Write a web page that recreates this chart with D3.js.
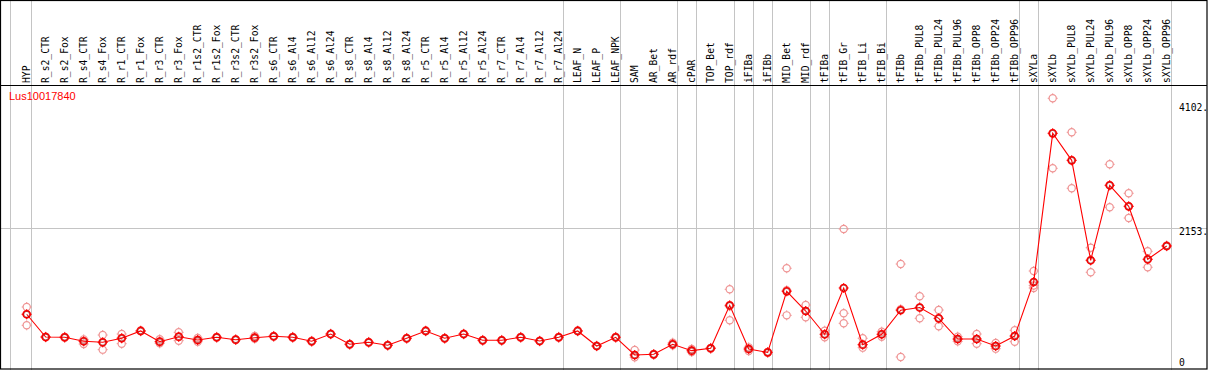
<!DOCTYPE html>
<html>
<head>
<meta charset="utf-8">
<script src="https://cdn.jsdelivr.net/npm/d3@7"></script>
<style>
  body { margin: 0; background: #fff; }
  svg { display: block; }
  .hdr { font-family: "DejaVu Sans Mono", monospace; font-size: 9.7px; fill: #000; }
  .ylab { font-family: "DejaVu Sans Mono", monospace; font-size: 9.7px; fill: #000; }
</style>
</head>
<body>
<div id="chart"></div>
<script>
// sample names along the top
var categories = ["HYP","R_s2_CTR","R_s2_Fox","R_s4_CTR","R_s4_Fox","R_r1_CTR","R_r1_Fox","R_r3_CTR","R_r3_Fox",
  "R_r1s2_CTR","R_r1s2_Fox","R_r3s2_CTR","R_r3s2_Fox","R_s6_CTR","R_s6_Al4","R_s6_Al12","R_s6_Al24",
  "R_s8_CTR","R_s8_Al4","R_s8_Al12","R_s8_Al24","R_r5_CTR","R_r5_Al4","R_r5_Al12","R_r5_Al24",
  "R_r7_CTR","R_r7_Al4","R_r7_Al12","R_r7_Al24","LEAF_N","LEAF_P","LEAF_NPK","SAM","AR_Bet","AR_rdf",
  "cPAR","TOP_Bet","TOP_rdf","iFIBa","iFIBb","MID_Bet","MID_rdf","tFIBa","tFIB_Gr","tFIB_Li","tFIB_Bi",
  "tFIBb","tFIBb_PUL8","tFIBb_PUL24","tFIBb_PUL96","tFIBb_OPP8","tFIBb_OPP24","tFIBb_OPP96",
  "sXYLa","sXYLb","sXYLb_PUL8","sXYLb_PUL24","sXYLb_PUL96","sXYLb_OPP8","sXYLb_OPP24","sXYLb_OPP96"];

// mean expression per sample
var means = [857,515,511,451,436,496,606,445,520,470,511,475,505,526,511,451,560,
  406,436,391,496,606,496,560,466,466,511,455,511,606,380,511,245,255,406,
  310,346,992,335,285,1202,906,556,1252,400,556,
  917,959,796,485,485,380,530,
  1342,3576,3170,1668,2795,2479,1683,1883];

// replicate values per sample
var replicates = [
  [966,857,691],[515,520,510],[511,505,518],[451,410,480],[545,325,436],[560,415,500],[606,600,612],
  [481,445,420],[586,460,515],[500,470,445],[511,505,518],[475,470,480],[530,505,490],[526,520,532],
  [511,505,518],[451,445,458],[560,555,566],[406,400,412],[436,430,442],[391,386,396],[496,490,502],
  [606,600,612],[496,490,502],[560,555,566],[466,460,472],[466,460,472],[511,505,518],[455,450,460],
  [511,505,518],[606,600,612],[380,375,386],[511,505,518],[320,210,245],[255,250,260],[430,406,390],
  [335,310,290],[346,340,352],[1232,766,978],[335,305,360],[285,280,290],[1548,841,1217],[996,811,906],
  [610,511,556],[2138,872,721],[496,355,400],[595,556,520],[1612,215,932],[1127,796,959],[921,676,796],
  [520,485,450],[560,415,485],[425,340,380],[616,445,530],[1507,1252,1290],[4102,3050,3576],
  [3591,2750,3170],[1857,1488,1668],[3110,2464,2795],[2675,2303,2479],[1803,1563,1683],[1883,1878,1890]];

// samples after which a group divider is drawn
var groupEnds = ["HYP","R_r7_Al24","LEAF_NPK","AR_rdf","cPAR","TOP_rdf","iFIBa","iFIBb","MID_rdf",
  "tFIBa","tFIB_Bi","tFIBb_OPP96","sXYLa","sXYLb_OPP96"];

var yTicks = [0, 2153, 4102];
var yTickLabels = ["0", "2153.", "4102."];
var geneName = "Lus10017840";

var width = 1209, height = 370, headerH = 85;

var svg = d3.select("#chart").append("svg")
  .attr("width", width)
  .attr("height", height);

var x = d3.scaleBand()
  .domain(categories)
  .range([17.2, 17.2 + 19 * categories.length])
  .padding(0);
function cx(c){ return x(c) + x.bandwidth() / 2; }

var y = d3.scaleLinear()
  .domain([0, d3.max(replicates, function(r){ return d3.max(r); })])
  .range([371.3, 98.3]);

// gridline at the middle tick
svg.append("line")
  .attr("x1", 0).attr("x2", 1207)
  .attr("y1", Math.round(y(yTicks[1])) + 0.5).attr("y2", Math.round(y(yTicks[1])) + 0.5)
  .attr("stroke", "#c4c4c4").attr("stroke-width", 1);

// group dividers
svg.append("line")
  .attr("x1", Math.round(cx(categories[0]) - 17) + 0.5).attr("x2", Math.round(cx(categories[0]) - 17) + 0.5)
  .attr("y1", 0).attr("y2", height)
  .attr("stroke", "#c4c4c4");
svg.selectAll(".divider")
  .data(groupEnds)
  .enter().append("line")
  .attr("class", "divider")
  .attr("x1", function(d){ return Math.round(cx(d) + 4) + 0.5; })
  .attr("x2", function(d){ return Math.round(cx(d) + 4) + 0.5; })
  .attr("y1", 0).attr("y2", height)
  .attr("stroke", "#c4c4c4");

// header labels
svg.selectAll(".hdr")
  .data(categories)
  .enter().append("text")
  .attr("class", "hdr")
  .attr("transform", function(d){ return "translate(" + (cx(d) + 3.2) + "," + 83 + ")rotate(-90)"; })
  .text(function(d){ return d; });

// frame + header separator
svg.append("rect")
  .attr("x", 0.5).attr("y", 0.5)
  .attr("width", 1206.5).attr("height", 368.5)
  .attr("fill", "none").attr("stroke", "#000").attr("stroke-width", 1.2);
svg.append("line")
  .attr("x1", 0).attr("x2", 1207)
  .attr("y1", headerH + 0.5).attr("y2", headerH + 0.5)
  .attr("stroke", "#000").attr("stroke-width", 1);

// y tick labels on the right
svg.selectAll(".ylab")
  .data(yTicks)
  .enter().append("text")
  .attr("class", "ylab")
  .attr("x", 1179)
  .attr("y", function(d){ return Math.max(108, Math.min(362.5, y(d) + 4)); })
  .attr("dominant-baseline", "middle")
  .text(function(d, i){ return yTickLabels[i]; });

svg.append("text")
  .attr("x", 9)
  .attr("y", 97)
  .attr("dominant-baseline", "middle")
  .attr("font-family", "Liberation Sans, Arial, sans-serif")
  .attr("font-size", "11px")
  .attr("fill", "#ff0000")
  .text(geneName);

function marker(g, col, sw){
  g.append("circle").attr("r", 3.6).attr("fill", "none").attr("stroke", col).attr("stroke-width", sw);
  [[0,-1],[0,1],[-1,0],[1,0]].forEach(function(v){
    g.append("line")
      .attr("x1", v[0] * 3.6).attr("y1", v[1] * 3.6)
      .attr("x2", v[0] * 5).attr("y2", v[1] * 5)
      .attr("stroke", col).attr("stroke-width", 1);
  });
}

// replicate points
var repPts = [];
categories.forEach(function(c, i){
  replicates[i].forEach(function(v){ repPts.push({c: c, v: v}); });
});
svg.append("g").selectAll("g")
  .data(repPts)
  .enter().append("g")
  .attr("transform", function(d){ return "translate(" + cx(d.c) + "," + y(d.v) + ")"; })
  .each(function(){ marker(d3.select(this), "#ef9595", 1.2); });

// mean line
var meanData = categories.map(function(c, i){ return {c: c, v: means[i]}; });
svg.append("path")
  .datum(meanData)
  .attr("fill", "none")
  .attr("stroke", "#ff0000")
  .attr("stroke-width", 1.1)
  .attr("d", d3.line().x(function(d){ return cx(d.c); }).y(function(d){ return y(d.v); }));

svg.append("g").selectAll("g")
  .data(meanData)
  .enter().append("g")
  .attr("transform", function(d){ return "translate(" + cx(d.c) + "," + y(d.v) + ")"; })
  .each(function(){
    var g = d3.select(this);
    marker(g, "#ff0000", 1.5);
    g.append("circle").attr("r", 2.8).attr("fill", "none").attr("stroke", "#8a0000").attr("stroke-width", 0.5);
  });
</script>
</body>
</html>
